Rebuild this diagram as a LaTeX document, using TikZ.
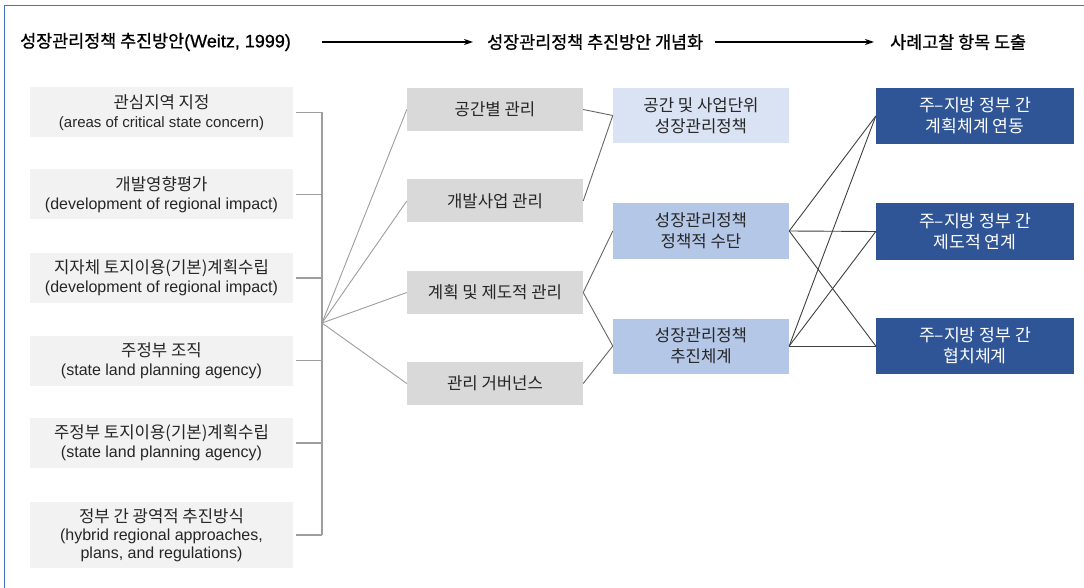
\documentclass[tikz,border=0pt]{standalone}
\usepackage{fontspec}
\setmainfont{Noto Sans CJK KR}
\newfontfamily\lat{Liberation Sans}
\newfontfamily\hdrfont{Noto Sans CJK KR}[FakeBold=0.8]
\newfontfamily\hdrlat{Liberation Sans}[FakeBold=0.8]
\usetikzlibrary{arrows.meta}
\definecolor{lgray}{HTML}{F2F2F2}
\definecolor{mgray}{HTML}{D9D9D9}
\definecolor{lblue}{HTML}{DAE3F3}
\definecolor{mblue}{HTML}{B4C7E7}
\definecolor{dblue}{HTML}{2F5597}
\definecolor{frameblue}{HTML}{4472C4}
\definecolor{txt}{HTML}{262626}
\newcommand\entxt[2][16]{{\lat\fontsize{#1}{19}\selectfont #2}}
\newcommand\entxtb[1]{{\lat\fontsize{16}{18}\selectfont #1}}
\begin{document}
\begin{tikzpicture}[x=1pt,y=-1pt,
  box/.style={inner sep=0pt, align=center, text=txt, font=\fontsize{16.7}{19}\selectfont},
  lbox/.style={box, fill=lgray, minimum width=263pt, minimum height=50pt},
  gbox/.style={box, fill=mgray, minimum width=176pt, minimum height=43pt},
  bbox/.style={box, minimum width=176pt, minimum height=55pt, font=\fontsize{16.7}{21}\selectfont},
  dbox/.style={box, fill=dblue, text=white, minimum width=198pt, minimum height=56pt, font=\fontsize{17.2}{21}\selectfont},
  hdr/.style={inner sep=0pt, anchor=west, text=black, font=\hdrfont\fontsize{17.4}{22}\selectfont},
  gline/.style={draw=black!38, line width=1.1pt},
  mline/.style={draw=black!60, line width=0.9pt},
  dline/.style={draw=black!75, line width=0.9pt},
  arr/.style={draw=black, line width=1.3pt, -{Stealth[length=9pt,width=6pt]}}
]
\useasboundingbox (0,0) rectangle (1084,588);
\fill[white] (0,0) rectangle (1084,588);
\draw[frameblue, line width=1pt] (4,588) -- (4,6) -- (1084,6);

% headers
\node[hdr] (H1) at (20,42) {성장관리정책 추진방안{\hdrlat\fontsize{18}{22}\selectfont (Weitz, 1999)}};
\node[hdr] (H2) at (487,42) {성장관리정책 추진방안 개념화};
\node[hdr] (H3) at (890,42) {사례고찰 항목 도출};
\coordinate (a1s) at (322,42);
\coordinate (a1e) at (473,42);
\coordinate (a2s) at (715,42);
\coordinate (a2e) at (874,42);
\draw[arr] (a1s) -- (a1e);
\draw[arr] (a2s) -- (a2e);

% left column
\node[lbox] (L1) at (161.5,112.5) {관심지역 지정\\\entxt[15]{(areas of critical state concern)}};
\node[lbox] (L2) at (161.5,194.5) {개발영향평가\\\entxt{(development of regional impact)}};
\node[lbox] (L3) at (161.5,278) {지자체 토지이용(기본)계획수립\\\entxt{(development of regional impact)}};
\node[lbox] (L4) at (161.5,360.5) {주정부 조직\\\entxt{(state land planning agency)}};
\node[lbox] (L5) at (161.5,443) {주정부 토지이용(기본)계획수립\\\entxt{(state land planning agency)}};
\node[lbox, minimum height=66pt, font=\fontsize{16.7}{18}\selectfont] (L6) at (161.5,535) {정부 간 광역적 추진방식\\\entxtb{(hybrid regional approaches,}\\\entxtb{plans, and regulations)}};

% middle gray column
\node[gbox] (M1) at (495,109.5) {공간별 관리};
\node[gbox] (M2) at (495,201) {개발사업 관리};
\node[gbox] (M3) at (495,292.5) {계획 및 제도적 관리};
\node[gbox] (M4) at (495,383.5) {관리 거버넌스};

% blue column
\node[bbox, fill=lblue] (B1) at (701,115.5) {공간 및 사업단위\\성장관리정책};
\node[bbox, fill=mblue] (B2) at (701,231) {성장관리정책\\정책적 수단};
\node[bbox, fill=mblue] (B3) at (701,346) {성장관리정책\\추진체계};

% dark column
\node[dbox] (D1) at (975,116) {주–지방 정부 간\\계획체계 연동};
\node[dbox] (D2) at (975,231.5) {주–지방 정부 간\\제도적 연계};
\node[dbox] (D3) at (975,346) {주–지방 정부 간\\협치체계};

% bracket
\coordinate (fan) at (322,323);
\draw[gline] (L1.east -| fan) -- (L6.east -| fan);
\foreach \i in {1,...,6} {
  \draw[gline] ([xshift=3pt]L\i.east) -- (L\i.east -| fan);
}
\foreach \m in {M1,M2,M3,M4} {
  \draw[gline, line width=0.9pt] (fan) -- (\m.west);
}

% middle to blue
\draw[mline] (M1.east) -- (B1.west);
\draw[mline] (M2.east) -- (B1.west);
\draw[mline] (M3.east) -- (B2.west);
\draw[mline] (M3.east) -- (B3.west);
\draw[mline] (M4.east) -- (B3.west);

% blue to dark
\foreach \b in {B2,B3} {
  \foreach \d in {D1,D2,D3} {
    \draw[dline] (\b.east) -- (\d.west);
  }
}
\end{tikzpicture}
\end{document}
